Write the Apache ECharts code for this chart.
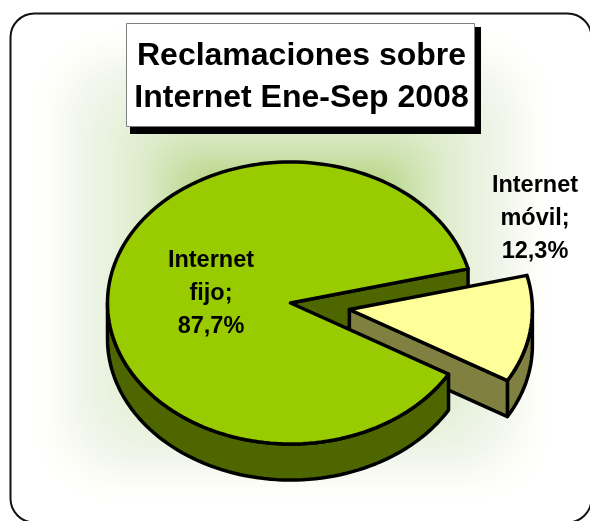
<!DOCTYPE html>
<html>
<head>
<meta charset="utf-8">
<style>html,body{margin:0;padding:0;background:#fff}#c{width:590px;height:521px}</style>
<script src="https://cdn.jsdelivr.net/npm/echarts@6/dist/echarts.min.js"></script>
</head>
<body>
<div id="c"></div>
<script>
// Claims by internet service, January-September 2008
const categories = ['Internet fijo', 'Internet móvil'];
const shares = [87.7, 12.3];
const titleLines = ['Reclamaciones sobre', 'Internet Ene-Sep 2008'];

const topColors = ['#99CC00', '#FFFF99'];
const sideColors = ['#4D6600', '#808040'];
const FONT = '"Liberation Sans", Arial, sans-serif';

// Projection of the tilted disc
const cx = 290.5, cy = 303, rx = 183, ry = 141, depth = 36;
const explodeFactor = 0.325;
const firstSliceEnd = 14; // degrees, measured counter-clockwise from the right
const total = shares.reduce((a, b) => a + b, 0);
const mobileSweep = shares[1] / total * 360;
const mobileMid = firstSliceEnd - mobileSweep / 2;

const rad = d => d * Math.PI / 180;
const rim = (deg, ox, oy) => [ox + rx * Math.cos(rad(deg)), oy - ry * Math.sin(rad(deg))];
function arc(from, to, ox, oy) {
  const n = Math.max(2, Math.ceil(Math.abs(to - from) / 2));
  const pts = [];
  for (let i = 0; i <= n; i++) pts.push(rim(from + (to - from) * i / n, ox, oy));
  return pts;
}
function poly(points, fill) {
  return {
    type: 'polygon',
    shape: { points },
    style: { fill, stroke: '#000', lineWidth: 3.5, lineJoin: 'round' }
  };
}
function wall(a, b, fill) {
  return poly([a, b, [b[0], b[1] + depth], [a[0], a[1] + depth]], fill);
}
function curvedWall(from, to, ox, oy, fill) {
  return poly(arc(from, to, ox, oy).concat(arc(to, from, ox, oy + depth)), fill);
}
function labelText(i) {
  const words = categories[i].split(' ');
  return words[0] + '\n' + words[1] + ';\n' + shares[i].toFixed(1).replace('.', ',') + '%';
}
function label(i, x, y) {
  return {
    type: 'text',
    style: {
      text: labelText(i), x, y, fill: '#000', align: 'center', verticalAlign: 'middle',
      font: 'bold 23.5px ' + FONT, lineHeight: 33
    }
  };
}

function renderPie() {
  const a0 = firstSliceEnd, a1 = firstSliceEnd - mobileSweep;
  const ex = cx + explodeFactor * rx * Math.cos(rad(mobileMid));
  const ey = cy - explodeFactor * ry * Math.sin(rad(mobileMid));
  const apex = [cx, cy], apexM = [ex, ey];
  return {
    type: 'group',
    children: [
      // inner cut of the large slice
      wall(apex, rim(a0, cx, cy), sideColors[0]),
      // detached slice
      curvedWall(a1, 0, ex, ey, sideColors[1]),
      wall(apexM, rim(a1, ex, ey), sideColors[1]),
      poly([apexM].concat(arc(a1, a0, ex, ey)), topColors[1]),
      // large slice
      curvedWall(180, 360 + a1, cx, cy, sideColors[0]),
      poly([apex].concat(arc(a0, 360 + a1, cx, cy)), topColors[0]),
      label(0, 211, 293.5),
      label(1, 535, 218.5)
    ]
  };
}

// Soft rectangular backdrop: nested opaque rectangles stepping through the ramp
const ramp = [
  [0, [255, 255, 255]], [0.08, [253, 253, 248]], [0.19, [241, 246, 236]], [0.3, [233, 242, 222]],
  [0.42, [222, 236, 204]], [0.52, [207, 227, 178]], [0.62, [188, 216, 142]], [1, [170, 205, 110]]
];
function rampColor(t) {
  let i = 0;
  while (i < ramp.length - 2 && t > ramp[i + 1][0]) i++;
  const [t0, c0] = ramp[i], [t1, c1] = ramp[i + 1];
  const f = (t - t0) / (t1 - t0);
  return 'rgb(' + c0.map((v, k) => Math.round(v + (c1[k] - v) * f)).join(',') + ')';
}
function backdrop() {
  const x0 = 30, x1 = 555, y0 = 25, y1 = 505, steps = 130, out = [];
  for (let s = 0; s < steps; s++) {
    const t = s / steps;
    const dx = t * (x1 - x0) / 2, dy = t * (y1 - y0) / 2;
    const w = x1 - x0 - 2 * dx, h = y1 - y0 - 2 * dy;
    out.push({
      type: 'rect', z: 1, silent: true,
      shape: { x: x0 + dx, y: y0 + dy, width: w, height: h, r: Math.min(w, h) * 0.16 },
      style: { fill: rampColor(t) }
    });
  }
  return out;
}

const chart = echarts.init(document.getElementById('c'), null, { renderer: 'canvas' });
chart.setOption({
  animation: false,
  backgroundColor: '#fff',
  title: {
    text: titleLines.join('\n'),
    left: 301.5,
    top: 35,
    padding: 0,
    textAlign: 'center',
    z: 8,
    textStyle: { fontFamily: FONT, fontWeight: 'bold', fontSize: 32, lineHeight: 42, color: '#000', align: 'center' }
  },
  graphic: [
    {
      type: 'rect', z: 0, silent: true,
      shape: { x: 10.5, y: 13.5, width: 581, height: 509, r: 24 },
      style: { fill: '#fff', stroke: '#111', lineWidth: 2 }
    }
  ].concat(backdrop(), [
    {
      type: 'rect', z: 6, silent: true,
      shape: { x: 130, y: 27, width: 351, height: 107 },
      style: { fill: '#000' }
    },
    {
      type: 'rect', z: 7, silent: true,
      shape: { x: 126.5, y: 23.5, width: 348, height: 103 },
      style: { fill: '#fff', stroke: '#808080', lineWidth: 1 }
    }
  ]),
  series: [{
    type: 'custom',
    coordinateSystem: 'none',
    z: 5,
    silent: true,
    clip: false,
    data: [shares],
    renderItem: renderPie
  }]
});
</script>
</body>
</html>
